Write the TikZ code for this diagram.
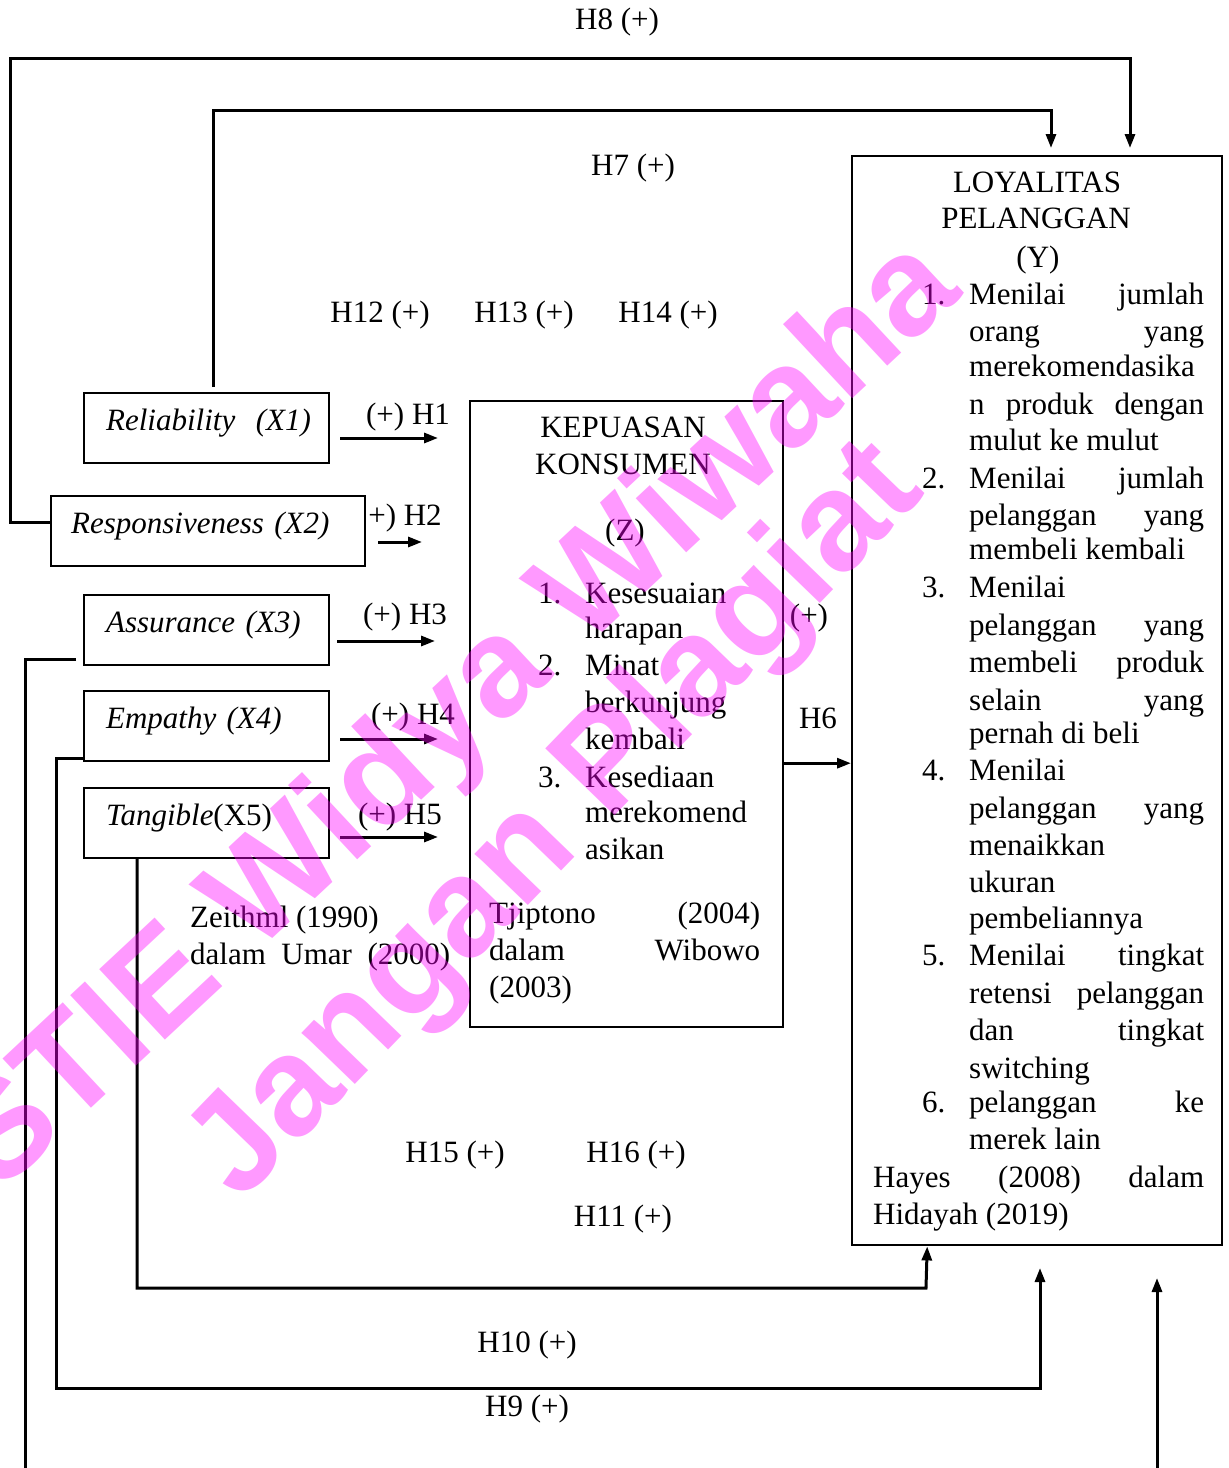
\documentclass[tikz,border=0pt]{standalone}
\usepackage{fontspec}
\setmainfont{Liberation Serif}
\newfontfamily\wmfont{Liberation Sans}
\usepackage{tikz}
\usetikzlibrary{positioning,calc,arrows.meta}
\definecolor{WmPink}{RGB}{255,0,255}
\newcommand{\jl}[1]{\makebox[235pt][s]{#1}}
\tikzset{
  xbox/.style={draw=black,line width=2.2pt,inner ysep=0pt,text height=37pt,text depth=33pt,
    align=left,anchor=north west,font=\fontsize{31}{37}\selectfont\itshape},
  zbox/.style={draw=black,line width=2.4pt,inner sep=0pt,anchor=north west},
  txt/.style={inner sep=0pt,anchor=base west,font=\fontsize{31}{37}\selectfont},
  lbl/.style={inner sep=0pt,font=\fontsize{31}{37}\selectfont},
  conn/.style={draw=black,line width=3pt},
  arr/.style={conn,-{Triangle[length=14pt,width=10pt]}},
  wmark/.style={text=WmPink,opacity=0.4,inner sep=0pt,font=\wmfont\bfseries\fontsize{140}{140}\selectfont},
}
\begin{document}
\begin{tikzpicture}[x=1pt,y=-1pt]
  \useasboundingbox (0,0) rectangle (1229,1468);
  % independent variables
  \node[xbox,inner xsep=22pt,text width=201pt] (rel) at (83,392) {\mbox{Reliability\ \ (X1)}};
  \node[xbox,inner xsep=20pt,text width=274pt] (res) at (50,495) {\mbox{Responsiveness (X2)}};
  \node[xbox,inner xsep=22pt,text width=201pt] (ass) at (83,594) {\mbox{Assurance (X3)}};
  \node[xbox,inner xsep=22pt,text width=201pt] (emp) at (83,690) {\mbox{Empathy (X4)}};
  \node[xbox,inner xsep=22pt,text width=201pt] (tan) at (83,787) {\mbox{Tangible\upshape(X5)}};
  % intervening and dependent variables
  \node[zbox,minimum width=313pt,minimum height=626pt] (kep) at (469,400) {};
  \node[zbox,minimum width=370pt,minimum height=1089pt] (loy) at (851,155) {};
  % texts in Z
  \node[txt,anchor=base] (z1) at (623,437) {KEPUASAN};
  \node[txt,anchor=base] (z2) at (623,474) {KONSUMEN};
  \node[txt,anchor=base] (z3) at (625,540) {(Z)};
  \foreach \y/\n in {603/1,675/2,787/3}
    \node[txt] (zn\n) at (538,\y) {\n.};
  \foreach \y/\t in {603/Kesesuaian,638/harapan,675/Minat,712/berkunjung,749/kembali,
      787/Kesediaan,822/merekomend,859/asikan}
    \node[txt] (zt\y) at (585,\y) {\t};
  \node[txt] (zr1) at (489,923) {\makebox[271pt][l]{Tjiptono\hfill(2004)}};
  \node[txt] (zr2) at (489,960) {\makebox[271pt][l]{dalam\hfill Wibowo}};
  \node[txt] (zr3) at (489,997) {(2003)};
  \node[txt] (xr1) at (190,927) {Zeithml (1990)};
  \node[txt] (xr2) at (190,964) {\makebox[260pt][s]{dalam Umar (2000)}};
  % texts in Y
  \node[txt,anchor=base] (y1) at (1037,192) {LOYALITAS};
  \node[txt,anchor=base] (y2) at (1036,228) {PELANGGAN};
  \node[txt,anchor=base] (y3) at (1038,267) {(Y)};
  \foreach \y/\n in {304/1,488/2,597/3,780/4,965/5,1112/6}
    \node[txt] (yn\n) at (922,\y) {\n.};
  \foreach \y/\t in {304/\jl{Menilai jumlah},341/\jl{orang yang},376/merekomendasika,
      414/\jl{n produk dengan},450/mulut ke mulut,488/\jl{Menilai jumlah},
      525/\jl{pelanggan yang},559/membeli kembali,597/Menilai,635/\jl{pelanggan yang},
      672/\jl{membeli produk},710/\jl{selain yang},743/pernah di beli,780/Menilai,
      818/\jl{pelanggan yang},855/menaikkan,892/ukuran,928/pembeliannya,
      965/\jl{Menilai tingkat},1003/\jl{retensi pelanggan},1040/\jl{dan tingkat},
      1078/switching,1112/\jl{pelanggan ke},1149/merek lain}
    \node[txt] (yt\y) at (969,\y) {\t};
  \node[txt] (yr1) at (873,1187) {\makebox[331pt][s]{Hayes (2008) dalam}};
  \node[txt] (yr2) at (873,1224) {Hidayah (2019)};
  % direct arrows to Z and Y
  \coordinate (h1s) at (340,438); \coordinate (h1e) at (438,438);
  \coordinate (h2s) at (378,542); \coordinate (h2e) at (422,542);
  \coordinate (h3s) at (337,641); \coordinate (h3e) at (435,641);
  \coordinate (h4s) at (340,739); \coordinate (h4e) at (438,739);
  \coordinate (h5s) at (340,837); \coordinate (h5e) at (438,837);
  \foreach \i in {1,...,5} \draw[arr] (h\i s) -- (h\i e);
  \draw[arr] ([yshift=-49pt]kep.east) -- ([yshift=-49pt]kep.east -| loy.west);
  % long paths
  \coordinate (h7e) at (1051,148);
  \coordinate (h8e) at (1130,148);
  \coordinate (h10e) at (1040,1268);
  \coordinate (h11c) at (926,1288);
  \coordinate (h9a) at (25,1468);
  \coordinate (h9b) at (1157,1468);
  \coordinate (h9e) at (1157,1278);
  \draw[arr] ([yshift=9pt]res.west) -| (10,58) -| (h8e);
  \draw[arr] ([xshift=6.5pt,yshift=5pt]rel.north) -- ++(0,-277) -| (h7e);
  \draw[arr] ([xshift=-69.5pt]tan.south) |- (h11c) -- ([xshift=-110pt]loy.south);
  \draw[arr] ([yshift=-32pt]emp.west) -| (56,1388) -| (h10e);
  \draw[conn] ([xshift=-7pt,yshift=-29pt]ass.west) -| (h9a);
  \draw[arr] (h9b) -- (h9e);
  % path labels
  \node[lbl] (l8) at (617,22) {H8 (+)};
  \node[lbl] (l7) at (633,168) {H7 (+)};
  \node[lbl] (l12) at (380,315) {H12 (+)};
  \node[lbl] (l13) at (524,315) {H13 (+)};
  \node[lbl] (l14) at (668,315) {H14 (+)};
  \node[lbl] (l1) at (408,417) {(+) H1};
  \node[lbl] (l2) at (405,518) {+) H2};
  \node[lbl] (l3) at (405,617) {(+) H3};
  \node[lbl] (l4) at (413,717) {(+) H4};
  \node[lbl] (l5) at (400,817) {(+) H5};
  \node[lbl] (l6a) at (809,618) {(+)};
  \node[lbl] (l6) at (818,718) {H6};
  \node[lbl] (l15) at (455,1155) {H15 (+)};
  \node[lbl] (l16) at (636,1155) {H16 (+)};
  \node[lbl] (l11) at (623,1219) {H11 (+)};
  \node[lbl] (l10) at (527,1345) {H10 (+)};
  \node[lbl] (l9) at (527,1409) {H9 (+)};
  % watermark
  \node[wmark,rotate=43] (wm1) at (457,718) {STIE Widya Wiwaha};
  \node[wmark,rotate=46] (wm2) at (558,823) {Jangan Plagiat};
\end{tikzpicture}
\end{document}
